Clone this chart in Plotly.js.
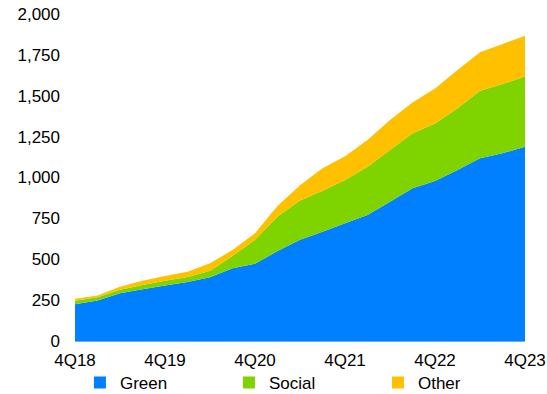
<!DOCTYPE html>
<html>
<head>
<meta charset="utf-8">
<script src="https://cdn.plot.ly/plotly-3.0.1.min.js"></script>
<style>html,body{margin:0;padding:0;background:#fff;}#chart{width:547px;height:394px;}</style>
</head>
<body>
<div id="chart"></div>
<script>
const quarters = ["4Q18","1Q19","2Q19","3Q19","4Q19","1Q20","2Q20","3Q20","4Q20","1Q21","2Q21","3Q21","4Q21","1Q22","2Q22","3Q22","4Q22","1Q23","2Q23","3Q23","4Q23"];
const tickLabels = ["4Q18","4Q19","4Q20","4Q21","4Q22","4Q23"];
const green  = [225,247,292,316,340,361,390,445,472,550,620,668,720,771,852,934,979,1046,1117,1148,1188];
const social = [21,21,22,26,28,31,40,75,148,212,240,251,265,295,316,336,352,377,414,424,429];
const other  = [12,11,18,26,30,31,45,37,39,64,92,137,145,163,184,188,214,234,235,245,250];
const yTicks = [0,250,500,750,1000,1250,1500,1750,2000];

const names = ["Green","Social","Other"];
const colors = ["#0080FF","#7FD400","#FFC000"];
const series = [green, social, other];

const traces = [];
series.forEach((s, i) => {
  traces.push({
    type: "scatter", mode: "none", x: quarters, y: s, stackgroup: "one",
    fillcolor: colors[i], line: {width: 0}, name: names[i], showlegend: false,
    hoverinfo: "skip"
  });
});
names.forEach((n, i) => {
  traces.push({
    type: "bar", x: [null], y: [null], name: n, marker: {color: colors[i]},
    showlegend: true, hoverinfo: "skip"
  });
});

const layout = {
  width: 547, height: 394,
  margin: {l: 75, r: 22, t: 14, b: 53, autoexpand: false},
  paper_bgcolor: "#fff", plot_bgcolor: "#fff",
  font: {family: "Liberation Sans, Arial, sans-serif", size: 17, color: "#000"},
  showlegend: true,
  legend: {orientation: "h", x: 0.011, xanchor: "left", y: -0.128, yanchor: "middle",
           entrywidth: 104, entrywidthmode: "pixels", font: {size: 17}, itemwidth: 30,
           traceorder: "normal", bgcolor: "rgba(0,0,0,0)"},
  xaxis: {
    type: "category", range: [0, 20], tickmode: "array",
    tickvals: tickLabels, ticktext: tickLabels,
    showgrid: false, zeroline: false, showline: true, linecolor: "#66AAFF", linewidth: 1,
    ticks: "outside", ticklen: 4, tickcolor: "rgba(0,0,0,0)", tickfont: {size: 17}, fixedrange: true
  },
  yaxis: {
    range: [0, 2000], tickmode: "array", tickvals: yTicks,
    ticktext: yTicks.map(v => v.toLocaleString("en-US")),
    showgrid: false, zeroline: false, showline: false, ticks: "",
    ticklabelstandoff: 14, tickfont: {size: 17}, fixedrange: true
  },
  barmode: "overlay"
};

Plotly.newPlot("chart", traces, layout, {staticPlot: true, displayModeBar: false});
</script>
</body>
</html>
